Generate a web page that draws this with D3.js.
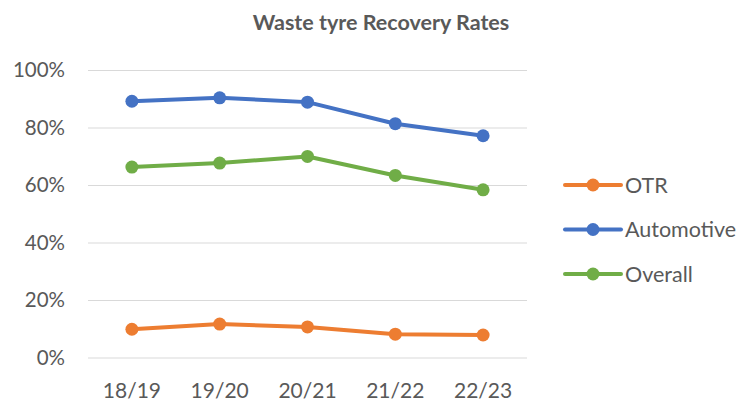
<!DOCTYPE html>
<html>
<head>
<meta charset="utf-8">
<script src="https://cdn.jsdelivr.net/npm/d3@7"></script>
<style>
  body { margin: 0; background: #fff; }
  svg text { font-family: Lato, "Open Sans", sans-serif; fill: #595959; }
</style>
</head>
<body>
<svg id="chart" width="751" height="401"></svg>
<script>
const years = ["18/19", "19/20", "20/21", "21/22", "22/23"];
const otr = [0.100, 0.118, 0.108, 0.083, 0.080];
const automotive = [0.893, 0.905, 0.890, 0.815, 0.773];
const overall = [0.664, 0.678, 0.701, 0.635, 0.585];
const yTicks = [0, 0.2, 0.4, 0.6, 0.8, 1.0];

const seriesList = [
    { name: "OTR", values: otr, color: "#ED7D31" },
    { name: "Automotive", values: automotive, color: "#4472C4" },
    { name: "Overall", values: overall, color: "#70AD47" }
];

const svg = d3.select("#chart");
const plotLeft = 88, plotRight = 527, plotTop = 70.5, plotBottom = 358;

const xScale = d3.scaleBand().domain(years).range([plotLeft, plotRight]);
const yScale = d3.scaleLinear().domain([0, 1]).range([plotBottom, plotTop]);

// title
svg.append("text")
    .attr("x", 381)
    .attr("y", 30)
    .attr("text-anchor", "middle")
    .style("font-size", "21.5px")
    .style("font-weight", "bold")
    .text("Waste tyre Recovery Rates");

// gridlines
svg.append("g")
    .selectAll("line")
    .data(yTicks)
    .join("line")
    .attr("x1", plotLeft)
    .attr("x2", plotRight)
    .attr("y1", d => yScale(d))
    .attr("y2", d => yScale(d))
    .attr("stroke", "#d9d9d9")
    .attr("stroke-width", 1);

// y labels
svg.append("g")
    .selectAll("text")
    .data(yTicks)
    .join("text")
    .attr("x", 65)
    .attr("y", d => yScale(d))
    .attr("dy", "0.32em")
    .attr("text-anchor", "end")
    .style("font-size", "20.5px")
    .text(d => d3.format(".0%")(d));

// x labels
svg.append("g")
    .selectAll("text")
    .data(years)
    .join("text")
    .attr("x", d => xScale(d) + xScale.bandwidth() / 2)
    .attr("y", 398)
    .attr("text-anchor", "middle")
    .style("font-size", "21px")
    .text(d => d);

const line = d3.line()
    .x((d, i) => xScale(years[i]) + xScale.bandwidth() / 2)
    .y(d => yScale(d));

for (const s of seriesList) {
    svg.append("path")
        .datum(s.values)
        .attr("fill", "none")
        .attr("stroke", s.color)
        .attr("stroke-width", 4)
        .attr("stroke-linejoin", "round")
        .attr("d", line);

    svg.append("g")
        .selectAll("circle")
        .data(s.values)
        .join("circle")
        .attr("cx", (d, i) => xScale(years[i]) + xScale.bandwidth() / 2)
        .attr("cy", d => yScale(d))
        .attr("r", 6.5)
        .attr("fill", s.color);
}

// legend
const legend = svg.append("g")
    .selectAll("g")
    .data(seriesList)
    .join("g")
    .attr("transform", (d, i) => `translate(565, ${185 + i * 44.5})`);

legend.append("line")
    .attr("x1", 0)
    .attr("x2", 56)
    .attr("stroke", d => d.color)
    .attr("stroke-width", 4)
    .attr("stroke-linecap", "round");

legend.append("circle")
    .attr("cx", 28)
    .attr("r", 6.5)
    .attr("fill", d => d.color);

legend.append("text")
    .attr("x", 60)
    .attr("dy", "0.36em")
    .style("font-size", "21.5px")
    .text(d => d.name);
</script>
</body>
</html>
